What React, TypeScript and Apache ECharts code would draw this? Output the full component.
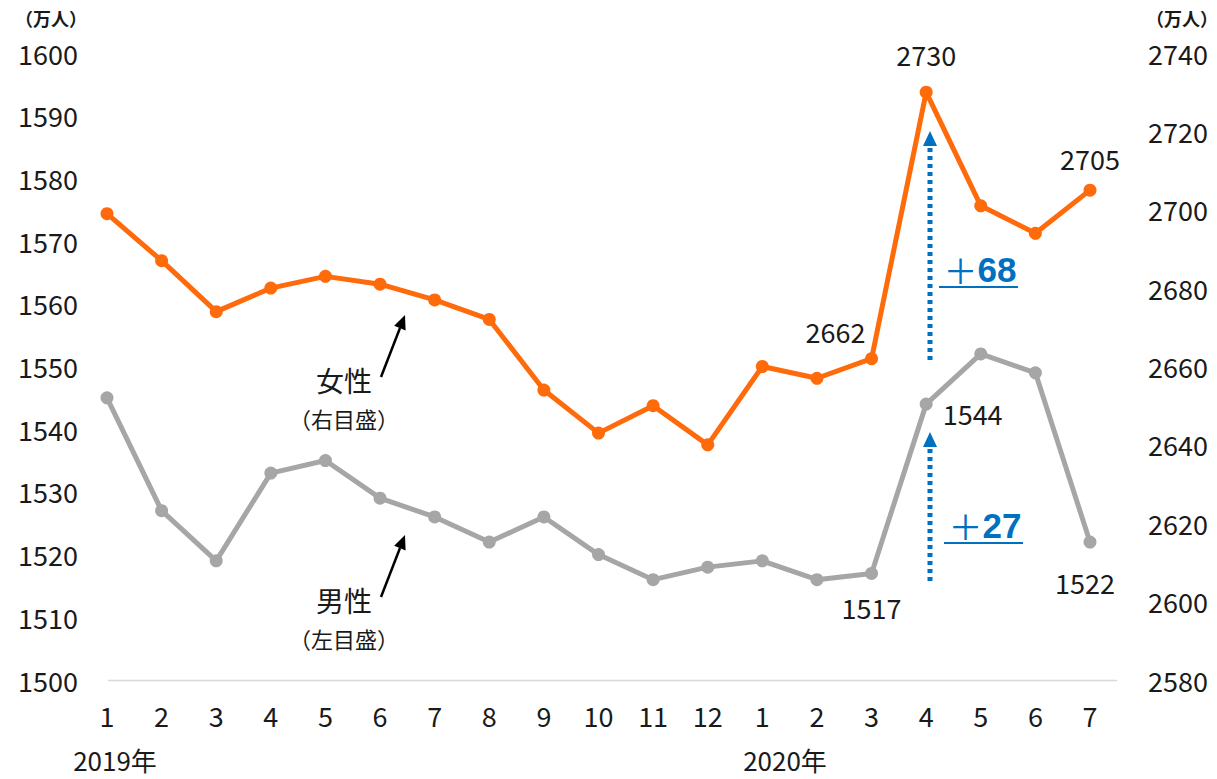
import React, { useEffect, useRef } from "react";
import * as echarts from "echarts";

const months = ["1", "2", "3", "4", "5", "6", "7", "8", "9", "10", "11", "12", "1", "2", "3", "4", "5", "6", "7"];
const male = [1545, 1527, 1519, 1533, 1535, 1529, 1526, 1522, 1526, 1520, 1516, 1518, 1519, 1516, 1517, 1544, 1552, 1549, 1522];
const female = [2699, 2687, 2674, 2680, 2683, 2681, 2677, 2672, 2654, 2643, 2650, 2640, 2660, 2657, 2662, 2730, 2701, 2694, 2705];
const maleLabelIdx = [14, 15, 18];
const femaleLabelIdx = [14, 15, 18];
const yearLabels = ["2019年", "2020年"];
const unitLabel = "（万人）";

const FONT = "'Noto Sans CJK JP', 'Noto Sans', sans-serif";
const ORANGE = "#FF6A0A";
const GRAY = "#A6A6A6";
const BLUE = "#0070C0";

export default function App() {
  const ref = useRef<HTMLDivElement>(null);
  useEffect(() => {
    const chart = echarts.init(ref.current!, undefined, { renderer: "svg" });
    const femaleLabelCfg: Record<number, any> = {
      14: { position: "top", offset: [-36, -2] },
      15: { position: "top", distance: 18 },
      18: { position: "top", distance: 12 },
    };
    const maleLabelCfg: Record<number, any> = {
      14: { position: "bottom", distance: 14 },
      15: { position: "right", distance: 10, offset: [0, 9] },
      18: { position: "bottom", distance: 20, offset: [-5, 0] },
    };
    const labelBase = { show: true, fontSize: 27, color: "#1a1a1a", fontFamily: FONT };
    const femaleData = female.map((v, i) =>
      femaleLabelIdx.includes(i) ? { value: v, label: { ...labelBase, ...femaleLabelCfg[i] } } : v
    );
    const maleData = male.map((v, i) =>
      maleLabelIdx.includes(i) ? { value: v, label: { ...labelBase, ...maleLabelCfg[i] } } : v
    );

    const arrowBlack = (y0: number) => [
      { type: "line", shape: { x1: 381, y1: 377 + y0, x2: 400, y2: 328 + y0 }, style: { stroke: "#000", lineWidth: 2.5 } },
      { type: "polygon", shape: { points: [[405, 315 + y0], [405.6, 330.5 + y0], [394.2, 325.8 + y0]] }, style: { fill: "#000" } },
    ];
    const blueArrow = (top: number, bottom: number) => [
      { type: "line", shape: { x1: 930, y1: top + 17, x2: 930, y2: bottom }, style: { stroke: BLUE, lineWidth: 5, lineDash: [4, 4] } },
      { type: "polygon", shape: { points: [[930, top], [937, top + 15], [923, top + 15]] }, style: { fill: BLUE } },
    ];
    const txt = (x: number, y: number, text: string, size: number, extra: any = {}) => ({
      type: "text",
      x,
      y,
      style: { text, fontSize: size, fontFamily: FONT, fill: "#1a1a1a", textAlign: "center", textVerticalAlign: "middle", ...extra },
    });
    const plusText = (x: number, y: number, num: string) => ({
      type: "text",
      x,
      y,
      style: {
        text: "{p|＋}{n|" + num + "}",
        textAlign: "center",
        textVerticalAlign: "middle",
        rich: {
          p: { fontSize: 34, fontFamily: FONT, fill: BLUE, fontWeight: "normal" },
          n: { fontSize: 35, fontFamily: "'Liberation Sans', Arial, sans-serif", fill: BLUE, fontWeight: "bold" },
        },
      },
    });

    chart.setOption({
      animation: false,
      grid: { left: 107, right: 127, top: 53, bottom: 99 },
      xAxis: {
        type: "category",
        data: months,
        boundaryGap: false,
        axisLine: { show: false },
        axisTick: { show: false },
        axisLabel: { fontSize: 27, color: "#1a1a1a", fontFamily: FONT, margin: 22, interval: 0 },
      },
      yAxis: [
        {
          type: "value",
          min: 1500,
          max: 1600,
          interval: 10,
          splitLine: { show: false },
          axisLine: { show: false },
          axisTick: { show: false },
          axisLabel: { fontSize: 27, color: "#1a1a1a", fontFamily: FONT, margin: 29, formatter: (v: number) => String(v) },
        },
        {
          type: "value",
          min: 2580,
          max: 2740,
          interval: 20,
          splitLine: { show: false },
          axisLine: { show: false },
          axisTick: { show: false },
          axisLabel: { fontSize: 27, color: "#1a1a1a", fontFamily: FONT, margin: 58, align: "left", formatter: (v: number) => String(v) },
        },
      ],
      series: [
        {
          name: "男性",
          type: "line",
          yAxisIndex: 0,
          data: maleData,
          symbol: "circle",
          symbolSize: 13,
          lineStyle: { color: GRAY, width: 5 },
          itemStyle: { color: GRAY },
        },
        {
          name: "女性",
          type: "line",
          yAxisIndex: 1,
          data: femaleData,
          symbol: "circle",
          symbolSize: 13,
          lineStyle: { color: ORANGE, width: 5 },
          itemStyle: { color: ORANGE },
        },
      ],
      graphic: [
        { type: "line", shape: { x1: 108, y1: 680.5, x2: 1117, y2: 680.5 }, style: { stroke: "#D9D9D9", lineWidth: 1.5 } },
        txt(51, 18, unitLabel, 18, { fontWeight: "bold" }),
        txt(1182, 18, unitLabel, 18, { fontWeight: "bold" }),
        txt(115, 759, yearLabels[0], 26),
        txt(785, 759, yearLabels[1], 26),
        txt(344, 380, "女性", 28),
        txt(344, 418, "（右目盛）", 22),
        txt(344, 600, "男性", 28),
        txt(344, 638, "（左目盛）", 22),
        ...arrowBlack(0),
        ...arrowBlack(220),
        ...blueArrow(131, 362),
        ...blueArrow(432, 582),
        plusText(980, 269, "68"),
        { type: "line", shape: { x1: 939, y1: 287, x2: 1018, y2: 287 }, style: { stroke: BLUE, lineWidth: 2 } },
        plusText(985, 525, "27"),
        { type: "line", shape: { x1: 944, y1: 543, x2: 1023, y2: 543 }, style: { stroke: BLUE, lineWidth: 2 } },
      ],
    });
    return () => chart.dispose();
  }, []);
  return <div ref={ref} style={{ width: 1217, height: 779, position: "absolute", left: 0, top: 0 }} />;
}
